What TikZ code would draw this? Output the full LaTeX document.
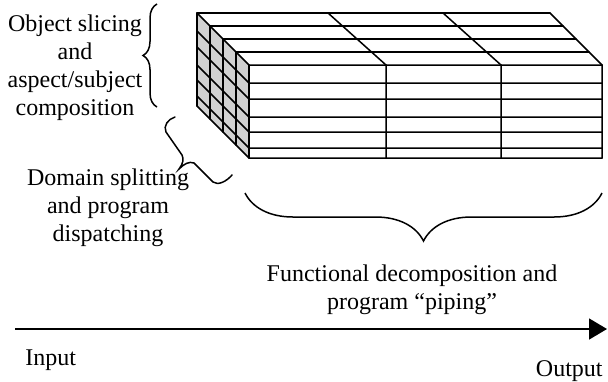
\documentclass[tikz,border=0pt]{standalone}
\usepackage{fontspec}
\setmainfont{Liberation Serif}
\usetikzlibrary{arrows.meta,decorations.pathreplacing}
\tikzstyle{lbl}=[inner sep=0pt,align=center,font=\fontsize{12}{14}\selectfont]
\tikzstyle{slab}=[line width=0.75pt,line cap=round]
\tikzset{cbrace/.style={decorate,decoration={brace,amplitude=#1},line width=0.75pt}}

\begin{document}
\begin{tikzpicture}[x=0.5pt,y=-0.5pt]
\useasboundingbox (0,0) rectangle (608,381);
% slabs: left side, rows, top
\fill[black!18] (197,13) -- (249,65) -- (249,158) -- (197,106) -- cycle;
\foreach \y in {65,83,99,117,132,148,158}
  \draw[slab] (197,\y-52) -- (249,\y) -- (602,\y);
\foreach \k in {0,...,4}
  \draw[slab] (197+13*\k,13+13*\k) -- +(0,93);
\foreach \k in {0,...,3}
  \draw[slab] (197+13*\k,13+13*\k) -- (550+13*\k,13+13*\k);
\draw[slab] (550,13) -- (602,65) -- (602,158);
\draw[slab] (328,13) -- (386,65) -- (386,158);
\draw[slab] (443,13) -- (501,65) -- (501,158);
% labels
\node[lbl] (slicing) at (75,68) {Object slicing\\and\\aspect/subject\\composition};
\node[lbl] (splitting) at (108,208) {Domain splitting\\and program\\dispatching};
\node[lbl] (piping) at (412,290) {Functional decomposition and\\program “piping”};
\node[lbl,anchor=base west] (input) at (25,365) {Input};
\node[lbl,anchor=base east] (output) at (603,376) {Output};
% braces
\coordinate (sliceT) at (157,4); \coordinate (sliceB) at (157,107);
\draw[cbrace=7pt] (sliceB) -- (sliceT);
\coordinate (splitT) at (175,117); \coordinate (splitB) at (232,175);
\draw[slab] (splitT) .. controls (168,119) and (163,126) .. (166,132) -- (182,155)
  .. controls (184,159) and (183,164) .. (179,169)
  .. controls (184,164) and (189,161) .. (194,163) -- (213,182)
  .. controls (218,186) and (227,181) .. (splitB);
\coordinate (pipeL) at (245,193); \coordinate (pipeR) at (602,193);
\draw[cbrace=24pt] (pipeR) -- (pipeL);
% input -> output
\coordinate (axisL) at (15,329); \coordinate (axisR) at (607,329);
\draw[line width=0.75pt,-{Triangle[length=9pt,width=10.5pt]}] (axisL) -- (axisR);
\end{tikzpicture}
\end{document}
